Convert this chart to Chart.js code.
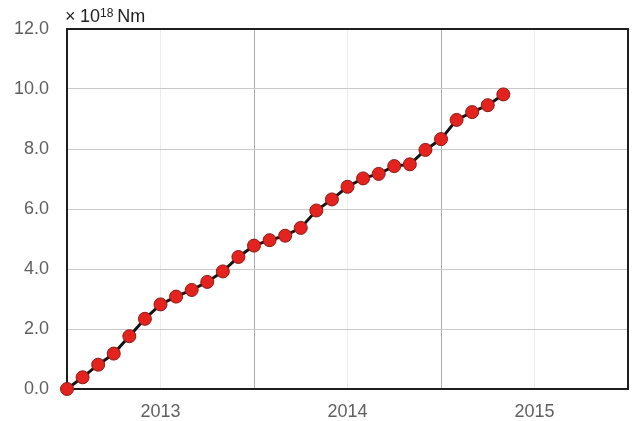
<!DOCTYPE html>
<html>
<head>
<meta charset="utf-8">
<script src="https://cdn.jsdelivr.net/npm/chart.js@4/dist/chart.umd.min.js"></script>
<style>
  html, body { margin: 0; padding: 0; background: #fff; }
  #wrap { width: 632px; height: 421px; }
</style>
</head>
<body>
<div id="wrap"><canvas id="c" width="632" height="421"></canvas></div>
<script>
// Months elapsed since January 2013 (one observation per month)
const monthIndex = [0, 1, 2, 3, 4, 5, 6, 7, 8, 9, 10, 11, 12, 13, 14, 15, 16, 17, 18, 19, 20, 21, 22, 23, 24, 25, 26, 27, 28];
// Cumulative seismic moment, ×10^18 Nm
const cumulativeMoment = [0.00, 0.39, 0.81, 1.18, 1.76, 2.34, 2.82, 3.08, 3.30, 3.57, 3.92, 4.40, 4.78, 4.96, 5.11, 5.37, 5.95, 6.32, 6.74, 7.02, 7.17, 7.43, 7.49, 7.97, 8.33, 8.97, 9.23, 9.46, 9.82];
// Year labels, placed at mid-year (months 6, 18, 30)
const yearLabels = ['2013', '2014', '2015'];
const yearLabelMonths = [6, 18, 30];

const FONT = "'Liberation Sans', Arial, sans-serif";
const TEXT = '#606060';

const framePlugin = {
  id: 'frame',
  beforeDatasetsDraw(chart) {
    const { ctx, chartArea: a } = chart;
    ctx.save();
    ctx.strokeStyle = '#1e1e1e';
    ctx.lineWidth = 2;
    ctx.strokeRect(a.left, a.top, a.right - a.left, a.bottom - a.top);
    ctx.restore();
  }
};

const unitPlugin = {
  id: 'unitLabel',
  afterDraw(chart) {
    const { ctx } = chart;
    ctx.save();
    ctx.fillStyle = '#222';
    ctx.textBaseline = 'alphabetic';
    ctx.textAlign = 'left';
    let x = 65, y = 22;
    ctx.font = '18px ' + FONT;
    ctx.fillText('×', x, y);
    x = 80;
    ctx.fillText('10', x, y);
    x += ctx.measureText('10').width;
    ctx.font = '12px ' + FONT;
    ctx.fillText('18', x, y - 5);
    x += ctx.measureText('18').width + 4;
    ctx.font = '18px ' + FONT;
    ctx.fillText('Nm', x, y);
    ctx.restore();
  }
};

new Chart(document.getElementById('c'), {
  type: 'line',
  data: {
    datasets: [{
      data: monthIndex.map((m, i) => ({ x: m, y: cumulativeMoment[i] })),
      borderColor: '#141414',
      borderWidth: 3,
      pointRadius: 6.5,
      pointBackgroundColor: '#e5231e',
      pointBorderColor: '#8a1a16',
      pointBorderWidth: 1,
      tension: 0,
      clip: false
    }]
  },
  options: {
    responsive: false,
    animation: false,
    devicePixelRatio: 1,
    layout: { autoPadding: false, padding: { top: 29, right: 4, left: 0, bottom: 0 } },
    plugins: { legend: { display: false }, tooltip: { enabled: false } },
    scales: {
      x: {
        type: 'linear',
        min: 0,
        max: 36,
        border: { display: false },
        grid: {
          drawTicks: false,
          lineWidth: 1,
          color: (c) => (c.tick && c.tick.value % 12 === 0) ? '#ababab' : '#ececec'
        },
        ticks: {
          stepSize: 6,
          padding: 12,
          color: TEXT,
          font: { family: FONT, size: 18 },
          maxRotation: 0,
          autoSkip: false,
          callback: (v) => {
            const k = yearLabelMonths.indexOf(v);
            return k >= 0 ? yearLabels[k] : '';
          }
        },
        afterFit: (s) => { s.height = 32; s.paddingLeft = 0; s.paddingRight = 0; }
      },
      y: {
        min: 0,
        max: 12,
        border: { display: false },
        grid: { drawTicks: false, color: '#c9c9c9', lineWidth: 1 },
        ticks: {
          stepSize: 2,
          padding: 18,
          color: TEXT,
          font: { family: FONT, size: 18 },
          callback: (v) => v.toFixed(1)
        },
        afterFit: (s) => { s.width = 67; }
      }
    }
  },
  plugins: [framePlugin, unitPlugin]
});
</script>
</body>
</html>
